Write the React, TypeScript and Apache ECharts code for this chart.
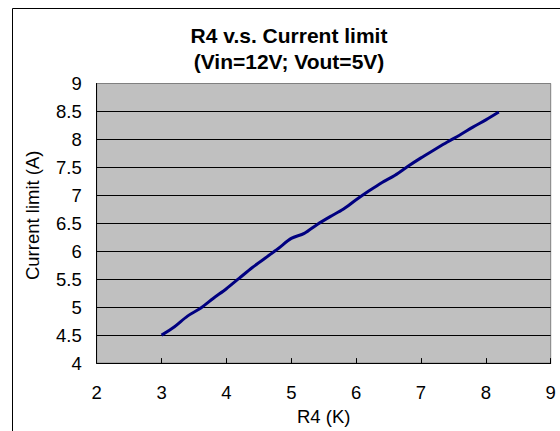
import React, { useEffect, useRef } from "react";
import * as echarts from "echarts";

const titleLines = ["R4 v.s. Current limit", "(Vin=12V; Vout=5V)"];
const xName = "R4 (K)";
const yName = "Current limit (A)";
const r4Values = [3.0, 3.2, 3.4, 3.6, 3.8, 4.0, 4.2, 4.4, 4.6, 4.8, 5.0, 5.2, 5.4, 5.6, 5.8, 6.0, 6.2, 6.4, 6.6, 6.8, 7.0, 7.2, 7.4, 7.6, 7.8, 8.0, 8.2];
const currentLimit = [4.5, 4.65, 4.84, 4.98, 5.16, 5.33, 5.52, 5.71, 5.88, 6.05, 6.23, 6.32, 6.48, 6.62, 6.75, 6.92, 7.08, 7.23, 7.36, 7.52, 7.67, 7.81, 7.95, 8.08, 8.22, 8.35, 8.49];

const FONT = "'Liberation Sans', Arial, sans-serif";

export default function App() {
  const ref = useRef<HTMLDivElement>(null);
  useEffect(() => {
    if (!ref.current) return;
    const chart = echarts.init(ref.current, null, { renderer: "svg" });
    const data = r4Values.map((x, i) => [x, currentLimit[i]]);
    const splitColors = Array.from({ length: 10 }, () => "#000000").concat(["#808080"]);
    chart.setOption({
      animation: false,
      backgroundColor: "#ffffff",
      textStyle: { fontFamily: FONT },
      title: {
        text: titleLines.join("\n"),
        left: 284,
        textAlign: "center",
        top: 17,
        textStyle: { fontSize: 21, fontWeight: "bold", color: "#000", lineHeight: 26, fontFamily: FONT },
      },
      graphic: [
        {
          type: "rect",
          shape: { x: 12.5, y: 8.5, width: 700, height: 600 },
          style: { fill: "none", stroke: "#000", lineWidth: 1 },
          silent: true,
          z: -1,
        },
      ],
      grid: { left: 96.7, right: 9.3, top: 83.5, bottom: 63.5, show: true, backgroundColor: "#C0C0C0", borderColor: "#808080", borderWidth: 1 },
      xAxis: {
        type: "value",
        min: 2,
        max: 9,
        interval: 1,
        name: xName,
        nameLocation: "middle",
        nameGap: 38,
        nameTextStyle: { fontSize: 18.5, color: "#000", fontFamily: FONT },
        axisLine: { show: true, lineStyle: { color: "#000", width: 1 } },
        axisTick: { show: true, inside: true, length: 5, lineStyle: { color: "#000" } },
        axisLabel: { fontSize: 18.5, color: "#000", margin: 20, fontFamily: FONT },
        splitLine: { show: false },
      },
      yAxis: {
        type: "value",
        min: 4,
        max: 9,
        interval: 0.5,
        name: yName,
        nameLocation: "middle",
        nameGap: 55,
        nameTextStyle: { fontSize: 18.5, color: "#000", fontFamily: FONT, padding: [0, 0, 0, 16] },
        axisLine: { show: true, lineStyle: { color: "#000", width: 1 } },
        axisTick: { show: false },
        axisLabel: { fontSize: 18.5, color: "#000", margin: 15, fontFamily: FONT },
        splitLine: { show: true, lineStyle: { color: splitColors, width: 1 } },
      },
      series: [
        {
          type: "line",
          data,
          showSymbol: false,
          smooth: 0.3,
          lineStyle: { color: "#000080", width: 3 },
        },
      ],
    });
    return () => chart.dispose();
  }, []);
  return <div ref={ref} style={{ position: "fixed", left: 0, top: 0, width: 560, height: 431 }} />;
}
